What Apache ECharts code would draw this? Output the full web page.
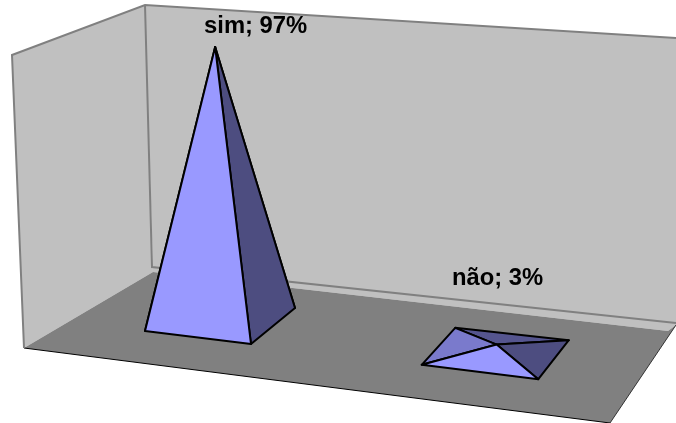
<!DOCTYPE html>
<html><head><meta charset="utf-8">
<style>html,body{margin:0;padding:0;background:#fff}#c{width:676px;height:423px}</style>
<script src="https://cdn.jsdelivr.net/npm/echarts@6/dist/echarts.min.js"></script>
</head><body><div id="c"></div>
<script>
const categories = ['sim', 'não'];
const values = [97, 3];
const labels = ['sim; 97%', 'não; 3%'];

const chart = echarts.init(document.getElementById('c'), null, {renderer: 'canvas'});
const wall = '#C0C0C0', wallLine = '#808080', floor = '#808080';
const poly = (pts, fill, stroke, lw) => ({type: 'polygon', silent: true,
  shape: {points: pts}, style: {fill: fill, stroke: stroke || null, lineWidth: lw || 0, lineJoin: 'round'}});
const line = (pts, stroke, lw) => ({type: 'polyline', silent: true,
  shape: {points: pts}, style: {fill: null, stroke: stroke, lineWidth: lw}});

function pyramid(params, api) {
  const i = api.value(0), v = api.value(1);
  const c0 = api.coord([i, 0]), c1 = api.coord([i, v]);
  const shear = 0.1214 * (c0[0] - 220);          // floor recedes along the category direction
  const cx = c0[0], cy = c0[1] + shear;
  const ax = cx - 0.05 * v + (i ? 0.8 : 0), ay = c1[1] + shear;
  const w = [53 + 5.3 * i, 6.5 + 0.7 * i], d = [22 - 6 * i, -18 - 1 * i];
  const bw = [w[0] - 1.5 * i, w[1] - 1 * i];     // back edge is a little shorter (perspective)
  const FL = [cx - w[0] - d[0], cy - w[1] - d[1]], FR = [cx + w[0] - d[0], cy + w[1] - d[1]];
  const BR = [cx + bw[0] + d[0], cy + bw[1] + d[1]], BL = [cx - bw[0] + d[0], cy - bw[1] + d[1]];
  const A = [ax, ay], K = '#000';
  return {type: 'group', children: [
    poly([BL, BR, A], '#55558F', K, 2),
    poly([FL, BL, A], '#7A7ACC', K, 2),
    poly([FR, BR, A], '#4D4D80', K, 2),
    poly([FL, FR, A], '#9999FF', K, 2),
    {type: 'text', silent: true, style: {
      text: labels[i], x: i ? ax + 1 : ax + 40.5, y: i ? 278 : 26,
      align: 'center', verticalAlign: 'middle',
      font: 'bold 23.8px "Liberation Sans", Arial, sans-serif', fill: '#000'}}
  ]};
}

chart.setOption({
  animation: false,
  backgroundColor: '#fff',
  grid: {left: 82, width: 552, top: 38.5, height: 281},
  xAxis: {type: 'category', data: categories, show: false},
  yAxis: {type: 'value', min: 0, max: 100, show: false},
  graphic: {elements: [
    Object.assign(poly([[12,55],[145,5],[153,272],[24,348]], wall), {z: 0}),
    Object.assign(poly([[145,5],[676,38],[676,325],[668,331],[153,272]], wall), {z: 0}),
    Object.assign(poly([[24,348],[153,272],[668,331],[676,325],[610,423]], floor), {z: 0}),
    Object.assign(line([[24,348],[610,423]], '#000', 1), {z: 0}),
    Object.assign(line([[610,423],[676,325]], '#333', 1), {z: 0}),
    Object.assign(line([[24,348],[12,55],[145,5],[676,38]], wallLine, 2), {z: 0}),
    Object.assign(line([[145,5],[152,267],[676,323]], wallLine, 2), {z: 0})
  ]},
  series: [{
    type: 'custom', z: 5, clip: false,
    renderItem: pyramid,
    encode: {x: 0, y: 1},
    data: categories.map((c, i) => [i, values[i]])
  }]
});
</script></body></html>
